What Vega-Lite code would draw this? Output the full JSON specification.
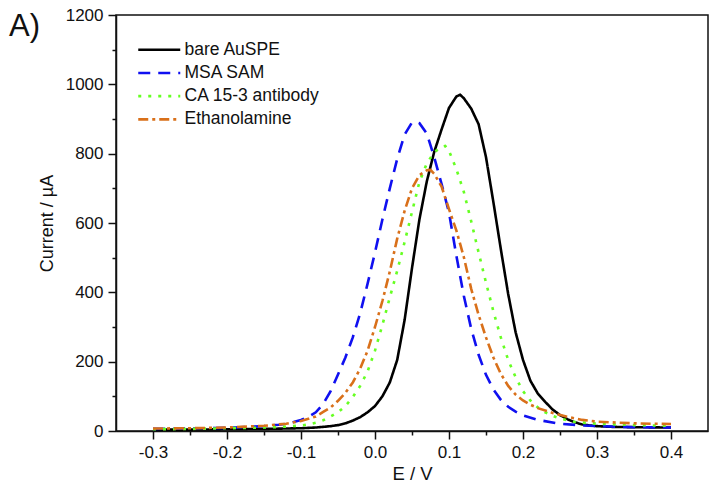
{
  "$schema": "https://vega.github.io/schema/vega-lite/v6.json",
  "autosize": "none",
  "width": 592,
  "height": 416,
  "padding": {"left": 116, "top": 15, "right": 2, "bottom": 54},
  "background": "white",
  "title": {"text": "A)", "anchor": "start", "frame": "group", "orient": "top", "offset": -37, "dx": -107, "font": "Liberation Sans", "fontSize": 31, "fontWeight": "normal", "color": "#111"},
  "data": {"values": [
    {"s":"bare AuSPE","E":-0.30,"I":4},{"s":"bare AuSPE","E":-0.25,"I":4},{"s":"bare AuSPE","E":-0.20,"I":5},{"s":"bare AuSPE","E":-0.15,"I":6},{"s":"bare AuSPE","E":-0.10,"I":8},{"s":"bare AuSPE","E":-0.08,"I":10},{"s":"bare AuSPE","E":-0.06,"I":14},{"s":"bare AuSPE","E":-0.05,"I":17},{"s":"bare AuSPE","E":-0.04,"I":22},{"s":"bare AuSPE","E":-0.03,"I":30},{"s":"bare AuSPE","E":-0.02,"I":40},{"s":"bare AuSPE","E":-0.01,"I":54},{"s":"bare AuSPE","E":0.00,"I":72},{"s":"bare AuSPE","E":0.01,"I":100},{"s":"bare AuSPE","E":0.02,"I":140},{"s":"bare AuSPE","E":0.03,"I":205},{"s":"bare AuSPE","E":0.04,"I":320},{"s":"bare AuSPE","E":0.05,"I":470},{"s":"bare AuSPE","E":0.06,"I":610},{"s":"bare AuSPE","E":0.07,"I":720},{"s":"bare AuSPE","E":0.08,"I":805},{"s":"bare AuSPE","E":0.09,"I":870},{"s":"bare AuSPE","E":0.10,"I":932},{"s":"bare AuSPE","E":0.11,"I":965},{"s":"bare AuSPE","E":0.115,"I":970},{"s":"bare AuSPE","E":0.12,"I":960},{"s":"bare AuSPE","E":0.13,"I":930},{"s":"bare AuSPE","E":0.14,"I":885},{"s":"bare AuSPE","E":0.15,"I":790},{"s":"bare AuSPE","E":0.16,"I":660},{"s":"bare AuSPE","E":0.17,"I":525},{"s":"bare AuSPE","E":0.18,"I":395},{"s":"bare AuSPE","E":0.19,"I":285},{"s":"bare AuSPE","E":0.20,"I":205},{"s":"bare AuSPE","E":0.21,"I":145},{"s":"bare AuSPE","E":0.22,"I":108},{"s":"bare AuSPE","E":0.23,"I":84},{"s":"bare AuSPE","E":0.24,"I":62},{"s":"bare AuSPE","E":0.25,"I":46},{"s":"bare AuSPE","E":0.26,"I":34},{"s":"bare AuSPE","E":0.27,"I":25},{"s":"bare AuSPE","E":0.28,"I":19},{"s":"bare AuSPE","E":0.29,"I":16},{"s":"bare AuSPE","E":0.30,"I":14},{"s":"bare AuSPE","E":0.32,"I":12},{"s":"bare AuSPE","E":0.35,"I":11},{"s":"bare AuSPE","E":0.40,"I":10},

    {"s":"MSA SAM","E":-0.30,"I":6},{"s":"MSA SAM","E":-0.25,"I":7},{"s":"MSA SAM","E":-0.20,"I":9},{"s":"MSA SAM","E":-0.15,"I":14},{"s":"MSA SAM","E":-0.13,"I":18},{"s":"MSA SAM","E":-0.12,"I":21},{"s":"MSA SAM","E":-0.11,"I":26},{"s":"MSA SAM","E":-0.10,"I":32},{"s":"MSA SAM","E":-0.09,"I":41},{"s":"MSA SAM","E":-0.08,"I":54},{"s":"MSA SAM","E":-0.07,"I":78},{"s":"MSA SAM","E":-0.06,"I":115},{"s":"MSA SAM","E":-0.05,"I":163},{"s":"MSA SAM","E":-0.04,"I":212},{"s":"MSA SAM","E":-0.03,"I":270},{"s":"MSA SAM","E":-0.02,"I":340},{"s":"MSA SAM","E":-0.01,"I":425},{"s":"MSA SAM","E":0.00,"I":515},{"s":"MSA SAM","E":0.01,"I":610},{"s":"MSA SAM","E":0.02,"I":700},{"s":"MSA SAM","E":0.03,"I":785},{"s":"MSA SAM","E":0.04,"I":855},{"s":"MSA SAM","E":0.05,"I":890},{"s":"MSA SAM","E":0.055,"I":892},{"s":"MSA SAM","E":0.06,"I":888},{"s":"MSA SAM","E":0.07,"I":858},{"s":"MSA SAM","E":0.08,"I":790},{"s":"MSA SAM","E":0.09,"I":712},{"s":"MSA SAM","E":0.10,"I":630},{"s":"MSA SAM","E":0.11,"I":505},{"s":"MSA SAM","E":0.12,"I":390},{"s":"MSA SAM","E":0.13,"I":295},{"s":"MSA SAM","E":0.14,"I":220},{"s":"MSA SAM","E":0.15,"I":162},{"s":"MSA SAM","E":0.16,"I":120},{"s":"MSA SAM","E":0.17,"I":90},{"s":"MSA SAM","E":0.18,"I":70},{"s":"MSA SAM","E":0.19,"I":56},{"s":"MSA SAM","E":0.20,"I":45},{"s":"MSA SAM","E":0.22,"I":32},{"s":"MSA SAM","E":0.25,"I":21},{"s":"MSA SAM","E":0.28,"I":16},{"s":"MSA SAM","E":0.30,"I":14},{"s":"MSA SAM","E":0.35,"I":11},{"s":"MSA SAM","E":0.40,"I":10},

    {"s":"CA 15-3 antibody","E":-0.30,"I":5},{"s":"CA 15-3 antibody","E":-0.25,"I":6},{"s":"CA 15-3 antibody","E":-0.20,"I":8},{"s":"CA 15-3 antibody","E":-0.15,"I":10},{"s":"CA 15-3 antibody","E":-0.125,"I":12},{"s":"CA 15-3 antibody","E":-0.10,"I":16},{"s":"CA 15-3 antibody","E":-0.09,"I":19},{"s":"CA 15-3 antibody","E":-0.08,"I":24},{"s":"CA 15-3 antibody","E":-0.07,"I":31},{"s":"CA 15-3 antibody","E":-0.06,"I":42},{"s":"CA 15-3 antibody","E":-0.05,"I":54},{"s":"CA 15-3 antibody","E":-0.04,"I":72},{"s":"CA 15-3 antibody","E":-0.03,"I":98},{"s":"CA 15-3 antibody","E":-0.02,"I":130},{"s":"CA 15-3 antibody","E":-0.01,"I":172},{"s":"CA 15-3 antibody","E":0.00,"I":232},{"s":"CA 15-3 antibody","E":0.01,"I":306},{"s":"CA 15-3 antibody","E":0.02,"I":385},{"s":"CA 15-3 antibody","E":0.03,"I":462},{"s":"CA 15-3 antibody","E":0.04,"I":545},{"s":"CA 15-3 antibody","E":0.05,"I":632},{"s":"CA 15-3 antibody","E":0.06,"I":718},{"s":"CA 15-3 antibody","E":0.07,"I":772},{"s":"CA 15-3 antibody","E":0.08,"I":804},{"s":"CA 15-3 antibody","E":0.09,"I":820},{"s":"CA 15-3 antibody","E":0.095,"I":822},{"s":"CA 15-3 antibody","E":0.10,"I":808},{"s":"CA 15-3 antibody","E":0.11,"I":755},{"s":"CA 15-3 antibody","E":0.12,"I":690},{"s":"CA 15-3 antibody","E":0.13,"I":605},{"s":"CA 15-3 antibody","E":0.14,"I":515},{"s":"CA 15-3 antibody","E":0.15,"I":428},{"s":"CA 15-3 antibody","E":0.16,"I":345},{"s":"CA 15-3 antibody","E":0.17,"I":270},{"s":"CA 15-3 antibody","E":0.18,"I":205},{"s":"CA 15-3 antibody","E":0.19,"I":155},{"s":"CA 15-3 antibody","E":0.20,"I":115},{"s":"CA 15-3 antibody","E":0.21,"I":88},{"s":"CA 15-3 antibody","E":0.22,"I":68},{"s":"CA 15-3 antibody","E":0.23,"I":54},{"s":"CA 15-3 antibody","E":0.24,"I":44},{"s":"CA 15-3 antibody","E":0.25,"I":36},{"s":"CA 15-3 antibody","E":0.27,"I":26},{"s":"CA 15-3 antibody","E":0.30,"I":21},{"s":"CA 15-3 antibody","E":0.35,"I":17},{"s":"CA 15-3 antibody","E":0.40,"I":15},

    {"s":"Ethanolamine","E":-0.30,"I":7},{"s":"Ethanolamine","E":-0.25,"I":8},{"s":"Ethanolamine","E":-0.20,"I":10},{"s":"Ethanolamine","E":-0.15,"I":15},{"s":"Ethanolamine","E":-0.12,"I":21},{"s":"Ethanolamine","E":-0.10,"I":29},{"s":"Ethanolamine","E":-0.09,"I":35},{"s":"Ethanolamine","E":-0.08,"I":42},{"s":"Ethanolamine","E":-0.07,"I":55},{"s":"Ethanolamine","E":-0.06,"I":68},{"s":"Ethanolamine","E":-0.05,"I":87},{"s":"Ethanolamine","E":-0.04,"I":110},{"s":"Ethanolamine","E":-0.03,"I":140},{"s":"Ethanolamine","E":-0.02,"I":180},{"s":"Ethanolamine","E":-0.01,"I":232},{"s":"Ethanolamine","E":0.00,"I":300},{"s":"Ethanolamine","E":0.01,"I":375},{"s":"Ethanolamine","E":0.02,"I":460},{"s":"Ethanolamine","E":0.03,"I":555},{"s":"Ethanolamine","E":0.04,"I":635},{"s":"Ethanolamine","E":0.05,"I":700},{"s":"Ethanolamine","E":0.06,"I":738},{"s":"Ethanolamine","E":0.07,"I":752},{"s":"Ethanolamine","E":0.075,"I":753},{"s":"Ethanolamine","E":0.08,"I":742},{"s":"Ethanolamine","E":0.09,"I":705},{"s":"Ethanolamine","E":0.10,"I":640},{"s":"Ethanolamine","E":0.11,"I":578},{"s":"Ethanolamine","E":0.12,"I":502},{"s":"Ethanolamine","E":0.13,"I":410},{"s":"Ethanolamine","E":0.14,"I":335},{"s":"Ethanolamine","E":0.15,"I":270},{"s":"Ethanolamine","E":0.16,"I":212},{"s":"Ethanolamine","E":0.17,"I":165},{"s":"Ethanolamine","E":0.18,"I":130},{"s":"Ethanolamine","E":0.19,"I":105},{"s":"Ethanolamine","E":0.20,"I":88},{"s":"Ethanolamine","E":0.21,"I":76},{"s":"Ethanolamine","E":0.22,"I":66},{"s":"Ethanolamine","E":0.24,"I":52},{"s":"Ethanolamine","E":0.26,"I":41},{"s":"Ethanolamine","E":0.28,"I":32},{"s":"Ethanolamine","E":0.30,"I":27},{"s":"Ethanolamine","E":0.35,"I":22},{"s":"Ethanolamine","E":0.40,"I":20}
  ]},
  "mark": {"type": "line", "strokeWidth": 2.6, "clip": true},
  "encoding": {
    "x": {"field": "E", "type": "quantitative",
      "scale": {"domain": [-0.35, 0.45], "nice": false, "zero": false},
      "axis": {"title": "E / V", "grid": false,
        "values": [-0.3,-0.25,-0.2,-0.15,-0.1,-0.05,0,0.05,0.1,0.15,0.2,0.25,0.3,0.35,0.4],
        "labelExpr": "round(datum.value*100) % 10 === 0 ? replace(format(datum.value, '.1f'), '\u2212', '-') : ''",
        "tickSize": {"condition": {"test": "round(datum.value*100) % 10 === 0", "value": 8}, "value": 4},
        "labelPadding": 5, "titlePadding": 4, "titleFontSize": 18.5}},
    "y": {"field": "I", "type": "quantitative",
      "scale": {"domain": [0, 1200], "nice": false},
      "axis": {"title": "Current / \u00b5A", "grid": false,
        "values": [0,100,200,300,400,500,600,700,800,900,1000,1100,1200],
        "format": "d",
        "labelExpr": "datum.value % 200 === 0 ? datum.label : ''",
        "tickSize": {"condition": {"test": "datum.value % 200 === 0", "value": 8}, "value": 4},
        "labelPadding": 5, "titlePadding": 9, "titleFontSize": 18}},
    "color": {"field": "s", "type": "nominal",
      "scale": {"domain": ["bare AuSPE", "MSA SAM", "CA 15-3 antibody", "Ethanolamine"], "range": ["#000000", "#1010f0", "#66ff22", "#d9701a"]},
      "legend": {"title": null, "orient": "none", "legendX": 34.5, "legendY": 26, "symbolType": "M-3,0H3", "symbolSize": 196, "symbolStrokeWidth": 2.6, "symbolFillColor": "transparent", "labelFont": "Liberation Sans", "labelFontSize": 17.5, "labelColor": "#111", "labelOffset": 16.5, "rowPadding": 4.2, "padding": 0}},
    "strokeDash": {"field": "s", "type": "nominal",
      "scale": {"domain": ["bare AuSPE", "MSA SAM", "CA 15-3 antibody", "Ethanolamine"], "range": [[1, 0], [12, 8], [3, 7], [10, 4, 3, 4]]},
      "legend": {"title": null}}
  },
  "config": {
    "view": {"stroke": "#111", "strokeWidth": 1.5},
    "axis": {"domainColor": "#111", "domainWidth": 1.5, "tickColor": "#111", "tickWidth": 1.5,
      "labelFont": "Liberation Sans", "labelFontSize": 17, "labelColor": "#111",
      "titleFont": "Liberation Sans", "titleFontSize": 18, "titleFontWeight": "normal", "titleColor": "#111"}
  }
}
